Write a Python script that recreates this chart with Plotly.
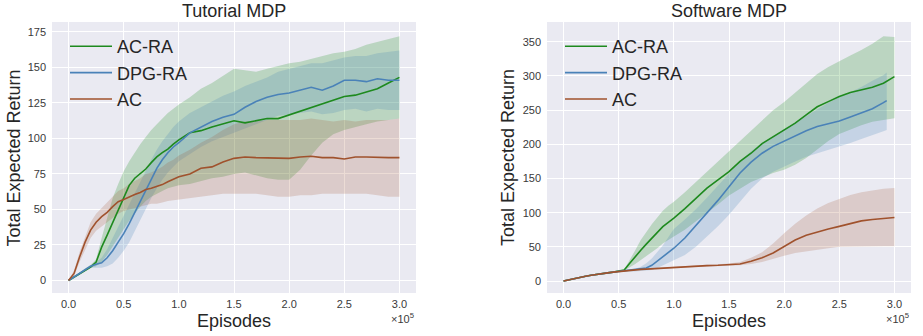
import plotly.graph_objects as go

# x grid in units of 1e5 episodes
X = [0, 0.05, 0.1, 0.15, 0.2, 0.25, 0.3, 0.35, 0.4, 0.45, 0.5, 0.55, 0.6, 0.65, 0.7, 0.75,
     0.8, 0.85, 0.9, 0.95, 1.0, 1.1, 1.2, 1.3, 1.4, 1.5, 1.6, 1.7, 1.8, 1.9, 2.0,
     2.1, 2.2, 2.3, 2.4, 2.5, 2.6, 2.7, 2.8, 2.9, 3.0]

# ---------------- Tutorial MDP ----------------
tut_acra_mean = [0, 2.5, 5, 7.5, 9.5, 13, 23.5, 32, 41, 50, 58, 67, 72, 75.5, 78.5, 83,
                 87, 90, 92.5, 96, 99, 104, 105.5, 108, 110.5, 112.5, 111, 112.5, 114, 114, 116.5,
                 119, 122, 124, 126.5, 129.5, 130.5, 133, 135, 139, 143]
tut_acra_low = [0, 2, 4, 6.5, 9, 10, 13, 18, 24, 30, 36, 42, 47, 52, 56, 59,
                61, 63, 65, 66, 67, 68, 70, 72, 73, 75, 76, 74, 72, 71, 71,
                78, 88, 97, 103, 106, 108, 110, 112, 113, 114]
tut_acra_up = [0, 3, 6, 8.5, 11, 15, 30, 45, 58, 68, 77, 84, 90, 96, 101, 106,
               110, 114, 118, 121, 124, 129, 135, 139, 144, 149, 148, 147, 149, 151, 153,
               154, 156, 158, 160, 161, 163, 166, 168, 170, 172]

tut_dpg_mean = [0, 2.5, 5, 7.5, 10, 11.5, 12.5, 16, 21, 27, 33, 40, 48, 56, 64, 72,
                79, 85, 90, 94, 97, 104, 108, 112, 115, 117, 122, 126, 129, 131, 132,
                134, 136, 134, 137, 141, 141, 140, 142, 141, 141]
tut_dpg_low = [0, 2, 4, 6.5, 9, 9, 9, 10, 12, 16, 21, 27, 34, 42, 50, 58,
               65, 71, 76, 80, 84, 89, 94, 98, 101, 104, 107, 110, 113, 116, 117,
               118, 119, 117, 118, 120, 121, 119, 121, 120, 120]
tut_dpg_up = [0, 3, 6, 8.5, 11, 13, 16, 22, 30, 38, 45, 53, 61, 69, 77, 85,
              92, 98, 103, 108, 112, 118, 122, 126, 130, 133, 137, 140, 143, 147, 149,
              151, 153, 153, 155, 157, 158, 158, 160, 161, 162]

tut_ac_mean = [0, 5, 16.5, 27, 35.5, 41, 45, 48, 52, 55.5, 57, 59, 60.5, 62, 64, 65,
               66, 67.5, 69.5, 71.5, 73, 75, 79, 80, 83.5, 86, 87, 86.5, 86.5, 86, 86,
               87, 87.5, 86.5, 86.5, 85.5, 87, 87, 86.5, 86.5, 86.5]
tut_ac_low = [0, 3, 13, 22, 30, 35, 38, 41, 44, 47, 49, 50, 51, 52, 53, 54,
              54, 55, 56, 57, 57, 58, 59, 60, 61, 61, 61, 61, 60, 59, 59,
              60, 60, 61, 61, 61, 61, 61, 60, 59, 59]
tut_ac_up = [0, 7, 20, 31, 41, 47, 51, 55, 59, 63, 65, 68, 70, 72, 75, 76,
             78, 80, 83, 85, 88, 92, 97, 101, 106, 110, 112, 112, 113, 113, 113,
             113, 114, 113, 112, 113, 112, 113, 113, 113, 114]

# ---------------- Software MDP ----------------
sw_acra_mean = [0, 2, 3.5, 5.5, 7, 8.5, 10, 11, 12, 13, 14, 16, 26, 36, 45, 54,
                62.5, 71, 79.5, 86, 92, 106, 121, 136, 148, 160, 175, 187, 201, 211, 221,
                231, 243, 255, 262.5, 270, 276, 280, 283.5, 289.5, 299]
sw_acra_low = [0, 1.5, 3, 5, 6.5, 8, 9.5, 10.5, 11.5, 12.5, 13.5, 15, 20, 25, 30, 36,
               42, 48, 55, 60, 65, 75, 88, 100, 112, 125, 135, 145, 152, 158, 163,
               170, 180, 192, 205, 215, 222, 228, 233, 236, 238]
sw_acra_up = [0, 2.5, 4, 6, 7.5, 9, 10.5, 11.5, 12.5, 13.5, 14.5, 17, 30, 45, 60, 72,
              83, 93, 103, 110, 116, 130, 145, 160, 175, 191, 205, 220, 236, 250, 262,
              276, 290, 303, 313, 322, 330, 338, 347, 358, 357]

sw_dpg_x = [0, 0.05, 0.1, 0.15, 0.2, 0.25, 0.3, 0.35, 0.4, 0.45, 0.5, 0.55, 0.6, 0.65, 0.7, 0.75,
            0.8, 0.85, 0.9, 0.95, 1.0, 1.1, 1.2, 1.3, 1.4, 1.5, 1.6, 1.7, 1.8, 1.9, 2.0,
            2.1, 2.2, 2.3, 2.4, 2.5, 2.6, 2.7, 2.8, 2.9, 2.93]
sw_dpg_mean = [0, 2, 3.5, 5.5, 7, 8.5, 10, 11, 12, 13, 14, 15, 15.5, 16, 17, 19,
               23, 29, 35, 41, 48, 63, 81, 99, 118, 138, 158, 174, 187, 197, 205,
               213, 220, 226, 230, 234, 240, 246, 252, 261, 264]
sw_dpg_low = [0, 1.5, 3, 5, 6.5, 8, 9.5, 10.5, 11.5, 12.5, 13.5, 14.5, 14, 14, 14, 15,
              16, 19, 22, 26, 30, 38, 50, 65, 80, 97, 116, 135, 150, 160, 168,
              175, 182, 188, 193, 197, 202, 208, 214, 219, 221]
sw_dpg_up = [0, 2.5, 4, 6, 7.5, 9, 10.5, 11.5, 12.5, 13.5, 14.5, 15.5, 16.5, 18, 21, 26,
             33, 42, 52, 64, 76, 90, 105, 122, 140, 158, 175, 190, 202, 212, 222,
             231, 241, 251, 261, 269, 276, 284, 293, 301, 305]

sw_ac_mean = [0, 2, 3.5, 5.5, 7, 8.5, 10, 11, 12, 13, 14, 15, 16, 16.5, 17, 17.5,
              18, 19, 19.5, 20, 20.5, 21.5, 22, 22.5, 23, 24, 25, 29, 34, 41, 51,
              60, 67, 72, 76, 80, 84, 88, 90, 92, 93]
sw_ac_low = [0, 1.5, 3, 5, 6.5, 8, 9.5, 10.5, 11.5, 12.5, 13.5, 14.3, 15, 15.5, 16, 16.5,
             17, 17.8, 18.3, 18.8, 19.3, 20.2, 20.7, 21.2, 21.6, 22.5, 23, 25, 28, 32, 37,
             41, 44, 46, 48, 50, 50, 51, 51, 51, 51]
sw_ac_up = [0, 2.5, 4, 6, 7.5, 9, 10.5, 11.5, 12.5, 13.5, 14.5, 15.7, 17, 17.5, 18, 18.5,
            19, 20.2, 20.7, 21.2, 21.7, 22.8, 23.3, 23.8, 24.4, 25.5, 28, 34, 42, 55, 70,
            84, 96, 106, 114, 120, 126, 130, 133, 135, 136]

SERIES = ["AC-RA", "DPG-RA", "AC"]
COLORS = ["#1e8a1e", "#4a82b8", "#a0522d"]
BAND = ["rgba(0,128,0,0.2)", "rgba(70,130,180,0.22)", "rgba(160,82,45,0.2)"]

FONT = "Liberation Sans, Arial, sans-serif"
BG = "#EAEAF2"

fig = go.Figure()

panels = [
    dict(xa="x", ya="y", legend="legend",
         data=[(X, tut_acra_mean, tut_acra_low, tut_acra_up),
               (X, tut_dpg_mean, tut_dpg_low, tut_dpg_up),
               (X, tut_ac_mean, tut_ac_low, tut_ac_up)]),
    dict(xa="x2", ya="y2", legend="legend2",
         data=[(X, sw_acra_mean, sw_acra_low, sw_acra_up),
               (sw_dpg_x, sw_dpg_mean, sw_dpg_low, sw_dpg_up),
               (X, sw_ac_mean, sw_ac_low, sw_ac_up)]),
]

for p in panels:
    # bands first
    for i, (xs, m, lo, up) in enumerate(p["data"]):
        fig.add_trace(go.Scatter(
            x=list(xs) + list(xs)[::-1], y=list(up) + list(lo)[::-1],
            fill="toself", fillcolor=BAND[i], line=dict(width=0),
            mode="lines", hoverinfo="skip", showlegend=False,
            xaxis=p["xa"], yaxis=p["ya"]))
    for i, (xs, m, lo, up) in enumerate(p["data"]):
        fig.add_trace(go.Scatter(
            x=xs, y=m, mode="lines", name=SERIES[i],
            line=dict(color=COLORS[i], width=1.6),
            legend=p["legend"],
            xaxis=p["xa"], yaxis=p["ya"]))

W, H = 923, 336
ytop = 1 - 22 / H
ybot = 1 - 293 / H

axis_common = dict(showgrid=True, gridcolor="white", gridwidth=1, zeroline=False,
                   showline=False, ticks="", tickfont=dict(family=FONT, size=11, color="#3a3a3a"),
                   automargin=False)

legend_common = dict(xanchor="left", yanchor="top", bgcolor="rgba(0,0,0,0)",
                     font=dict(family=FONT, size=18, color="#262626"),
                     itemwidth=42, traceorder="normal")

fig.update_layout(
    width=W, height=H,
    margin=dict(l=0, r=0, t=0, b=0),
    paper_bgcolor="white", plot_bgcolor=BG,
    font=dict(family=FONT, color="#262626"),
    xaxis=dict(domain=[52 / W, 416 / W], range=[-0.15, 3.15], tickvals=[0, 0.5, 1, 1.5, 2, 2.5, 3],
               ticktext=["0.0", "0.5", "1.0", "1.5", "2.0", "2.5", "3.0"], anchor="y",
               ticklabelstandoff=3, **axis_common),
    yaxis=dict(domain=[ybot, ytop], range=[-8.8, 182], tickvals=[0, 25, 50, 75, 100, 125, 150, 175],
               anchor="x", ticklabelstandoff=5, **axis_common),
    xaxis2=dict(domain=[547 / W, 911 / W], range=[-0.15, 3.15], tickvals=[0, 0.5, 1, 1.5, 2, 2.5, 3],
                ticktext=["0.0", "0.5", "1.0", "1.5", "2.0", "2.5", "3.0"], anchor="y2",
                ticklabelstandoff=3, **axis_common),
    yaxis2=dict(domain=[ybot, ytop], range=[-17.5, 379], tickvals=[0, 50, 100, 150, 200, 250, 300, 350],
                anchor="x2", ticklabelstandoff=5, **axis_common),
    legend=dict(x=65 / W, y=1 - 28 / H, **legend_common),
    legend2=dict(x=560 / W, y=1 - 28 / H, **legend_common),
    showlegend=True,
)

ann = []
for cx, title in [(234, "Tutorial MDP"), (729, "Software MDP")]:
    ann.append(dict(x=cx / W, y=1 - 11 / H, xref="paper", yref="paper", text=title, showarrow=False,
                    xanchor="center", yanchor="middle", font=dict(family=FONT, size=18, color="#262626")))
for cx in [234, 729]:
    ann.append(dict(x=cx / W, y=1 - 321 / H, xref="paper", yref="paper", text="Episodes", showarrow=False,
                    xanchor="center", yanchor="middle", font=dict(family=FONT, size=18, color="#262626")))
for cx in [13.5, 508]:
    ann.append(dict(x=cx / W, y=1 - 158 / H, xref="paper", yref="paper", text="Total Expected Return",
                    showarrow=False, textangle=-90, xanchor="center", yanchor="middle",
                    font=dict(family=FONT, size=18, color="#262626")))
for rx in [416, 911]:
    ann.append(dict(x=rx / W, y=1 - 318 / H, xref="paper", yref="paper", text="×10<sup>5</sup>",
                    showarrow=False, xanchor="right", yanchor="middle",
                    font=dict(family=FONT, size=11, color="#3a3a3a")))
fig.update_layout(annotations=ann)

fig.write_html("out.html")
